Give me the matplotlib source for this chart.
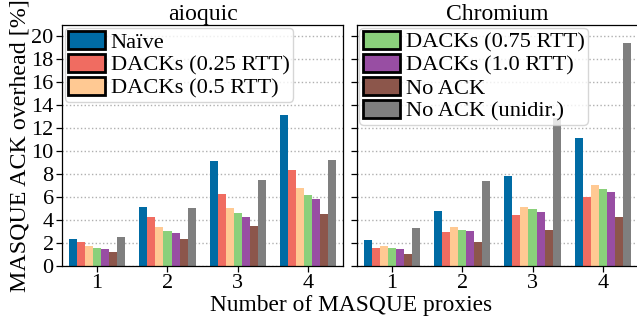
import matplotlib
matplotlib.use('Agg')
import matplotlib.pyplot as plt
import numpy as np

''' ----- Data (read from the reference) ----- '''
proxies = [1, 2, 3, 4]
labels = ['Naïve', 'DACKs (0.25 RTT)', 'DACKs (0.5 RTT)', 'DACKs (0.75 RTT)',
          'DACKs (1.0 RTT)', 'No ACK', 'No ACK (unidir.)']
colors = ['#006BA4', '#F06C61', '#FFC993', '#8AD07B', '#984EA3', '#8C564B', '#7F7F7F']

aioquic_naive = [2.35, 5.17, 9.13, 13.19]
aioquic_d025 = [2.09, 4.29, 6.31, 8.34]
aioquic_d05 = [1.73, 3.41, 5.08, 6.84]
aioquic_d075 = [1.56, 3.05, 4.64, 6.23]
aioquic_d10 = [1.47, 2.88, 4.29, 5.87]
aioquic_noack = [1.20, 2.35, 3.49, 4.55]
aioquic_unidir = [2.53, 5.08, 7.46, 9.22]

chromium_naive = [2.26, 4.82, 7.81, 11.16]
chromium_d025 = [1.56, 2.97, 4.46, 6.05]
chromium_d05 = [1.73, 3.41, 5.17, 7.02]
chromium_d075 = [1.56, 3.14, 4.99, 6.67]
chromium_d10 = [1.47, 3.05, 4.73, 6.49]
chromium_noack = [1.03, 2.09, 3.14, 4.29]
chromium_unidir = [3.32, 7.37, 12.88, 19.45]

aioquic = [aioquic_naive, aioquic_d025, aioquic_d05, aioquic_d075,
           aioquic_d10, aioquic_noack, aioquic_unidir]
chromium = [chromium_naive, chromium_d025, chromium_d05, chromium_d075,
            chromium_d10, chromium_noack, chromium_unidir]

''' ----- Plot ----- '''
plt.rcParams['font.family'] = ['Liberation Serif', 'DejaVu Serif']
plt.rcParams['font.size'] = 16

W, H = 637, 324
fig = plt.figure(figsize=(W / 100, H / 100), dpi=100)
ax1 = fig.add_axes([62 / W, 58 / H, 281.3 / W, 241 / H])
ax2 = fig.add_axes([356.7 / W, 58 / H, 281.3 / W, 241 / H])

width = 0.8 / 7
x = np.array(proxies, dtype=float)

for ax, data, title in [(ax1, aioquic, 'aioquic'), (ax2, chromium, 'Chromium')]:
  for i, vals in enumerate(data):
    ax.bar(x + (i - 3) * width, vals, width, color=colors[i], label=labels[i],
           linewidth=0, zorder=2)
  ax.set_xlim(0.5, 4.5)
  ax.set_ylim(0, 21)
  ax.set_xticks(proxies)
  ax.set_yticks(range(0, 21, 2))
  ax.yaxis.grid(True, linestyle=':', color='#b0b0b0', linewidth=1.0, zorder=0)
  ax.set_axisbelow(True)
  ax.tick_params(direction='out', length=4, width=0.9, pad=2)
  for s in ax.spines.values():
    s.set_linewidth(0.9)
  ax.set_title(title, fontsize=17, pad=2)

ax2.tick_params(axis='y', labelleft=False)
ax1.set_ylabel('MASQUE ACK overhead [%]', fontsize=17.3, labelpad=1)
fig.text(351 / W, 0.057, 'Number of MASQUE proxies', ha='center', va='center', fontsize=16.8)

h1, l1 = ax1.get_legend_handles_labels()
leg_kw = dict(loc='upper left', bbox_to_anchor=(0, 1), borderaxespad=0.12,
              handlelength=1.65, handleheight=0.85, handletextpad=0.25,
              labelspacing=0.05, borderpad=0.15, framealpha=0.8, fontsize=16.2)
leg1 = ax1.legend(h1[:3], l1[:3], **leg_kw)
leg2 = ax2.legend(h1[3:], l1[3:], **leg_kw)
for leg in (leg1, leg2):
  for p in leg.legend_handles:
    p.set_edgecolor('black')
    p.set_linewidth(2)

plt.savefig('out.png', dpi=100)
